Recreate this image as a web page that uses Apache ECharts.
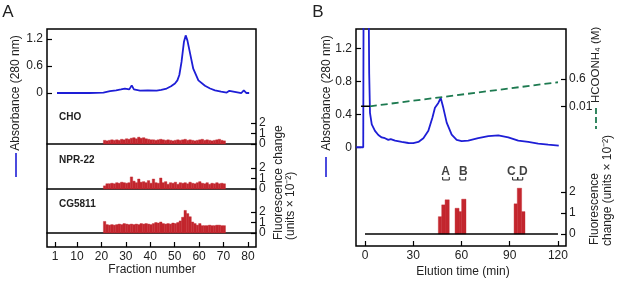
<!DOCTYPE html>
<html>
<head>
<meta charset="utf-8">
<script src="https://cdn.jsdelivr.net/npm/echarts@6/dist/echarts.min.js"></script>
<style>
    html, body { margin: 0; padding: 0; background: #fff; }
    #mychart { width: 617px; height: 281px; }
</style>
</head>
<body>
<div id="mychart"></div>
<script>
// ---- panel A: absorbance trace (fraction number, absorbance 280 nm)
var aFrac = [1.8, 15, 20.8, 23.5, 26, 28, 29.6, 31.4, 32.4, 33.3, 35.8, 39, 42.6, 44.5, 46.7, 48.5, 50.1, 51.1, 51.9, 52.8,
    53.8, 54.5, 55.2, 56.3, 57.6, 59.7, 62.4, 64.5, 66.5, 69, 71.3, 72.4, 73.2, 77.3, 78.3, 79.4, 80.5];
var aAbs = [0, 0, 0.01, 0.04, 0.06, 0.08, 0.1, 0.08, 0.17, 0.08, 0.055, 0.06, 0.055, 0.07, 0.1, 0.15, 0.21, 0.28, 0.4, 0.69,
    1.14, 1.28, 1.17, 0.88, 0.54, 0.28, 0.16, 0.1, 0.06, 0.03, 0.01, 0.05, 0.01, 0, 0.06, 0, 0];

// ---- panel A: fluorescence change per fraction (fractions 21..70)
var aFractions = [];
for (var f = 21; f <= 70; f++) aFractions.push(f);
var choVals = [0.35, 0.3, 0.35, 0.4, 0.35, 0.4, 0.35, 0.45, 0.4, 0.5,
    0.45, 0.55, 0.6, 0.5, 0.65, 0.55, 0.6, 0.5, 0.45, 0.4,
    0.4, 0.35, 0.4, 0.45, 0.4, 0.35, 0.4, 0.35, 0.3, 0.35,
    0.4, 0.35, 0.4, 0.45, 0.35, 0.4, 0.35, 0.3, 0.35, 0.4,
    0.45, 0.35, 0.4, 0.35, 0.3, 0.35, 0.4, 0.45, 0.35, 0.3];
var nprVals = [0.3, 0.5, 0.5, 0.55, 0.5, 0.6, 0.55, 0.65, 0.6, 0.55,
    0.6, 1.15, 0.75, 0.6, 0.95, 0.65, 0.7, 0.6, 0.8, 0.55,
    0.95, 0.6, 0.55, 1.05, 0.6, 0.7, 0.45, 0.6, 0.55, 0.65,
    0.45, 0.6, 0.55, 0.6, 0.5, 0.65, 0.55, 0.5, 0.6, 0.7,
    0.55, 0.5, 0.6, 0.45, 0.55, 0.5, 0.6, 0.5, 0.55, 0.5];
var cgVals = [1.1, 0.8, 0.75, 0.8, 0.75, 0.8, 0.85, 0.8, 0.9, 0.85,
    0.8, 0.85, 0.8, 0.85, 0.8, 0.9, 0.85, 0.9, 0.85, 0.8,
    0.9, 1.0, 0.95, 1.05, 0.9, 0.85, 0.9, 0.85, 0.95, 0.9,
    1.0, 1.15, 1.5, 2.15, 1.85, 1.55, 1.05, 0.9, 0.75, 0.9,
    0.7, 0.7, 0.7, 0.75, 0.7, 0.7, 0.75, 0.75, 0.7, 0.7];
var aPanelNames = ['CHO', 'NPR-22', 'CG5811'];
var aTicks = [1, 10, 20, 30, 40, 50, 60, 70, 80];
var fluorTicks = [0, 1, 2];

// ---- panel B: absorbance trace (elution time, min)
var bTime = [-5.5, -1.1, -0.8, 2.0, 2.6, 3.1, 4.2, 6.2, 8.3, 10.4, 12.4, 14.5, 16, 18.7, 22.8, 27, 30, 33.2, 36.3, 39.4,
    41.9, 43.5, 45.6, 47.1, 48.7, 50.8, 53.9, 57, 60.1, 64.2, 70.4, 76.7, 82.9, 89.1, 95.3, 101.5, 107.7, 113.9, 120.5];
var bAbs = [0, 0, 2.5, 2.5, 0.9, 0.42, 0.28, 0.2, 0.15, 0.12, 0.11, 0.09, 0.1, 0.08, 0.065, 0.052, 0.05, 0.065, 0.11, 0.2,
    0.36, 0.48, 0.54, 0.6, 0.48, 0.3, 0.155, 0.09, 0.075, 0.08, 0.11, 0.135, 0.145, 0.12, 0.08, 0.065, 0.045, 0.032, 0.02];
// HCOONH4 gradient (M)
var hTime = [3, 120];
var hConc = [0.01, 0.53];
var hStartTime = [-2.5, 3];
var hStartConc = [0.01, 0.01];
// fluorescence change of collected fractions
var bLeft = [45.6, 47.7, 49.8, 56.0, 58.5, 60.1, 92.7, 94.7, 97.4];
var bRight = [47.7, 49.8, 52.4, 58.5, 60.1, 62.8, 94.7, 97.4, 99.5];
var bFluor = [0.82, 1.38, 1.62, 1.22, 1.06, 1.65, 1.43, 2.17, 1.06];
var bPeakNames = ['A', 'B', 'C', 'D'];
var bPeakTime = [50.1, 61.2, 91.0, 98.4];
var bBracketL = [48.3, 59.0, 91.8, 95.0];
var bBracketR = [52.4, 62.6, 95.0, 98.1];
var bTicks = [0, 30, 60, 90, 120];

var BLUE = '#1e1ed6';
var RED = '#c3262e';
var GREEN = '#1d7a50';
var INK = '#222';
var FONT = 'Liberation Sans, Arial, Helvetica, sans-serif';

var myChart = echarts.init(document.getElementById('mychart'));

// 网格位置
var aLeft = 47, aWidth = 209;
var bGridLeft = 356, bWidth = 210;
var fluorTops = [110.4, 155.4, 199.4];

function baseGrid(left, top, width, height, frame) {
    return {
        left: left, top: top, width: width, height: height,
        containLabel: false, outerBoundsMode: 'none',
        show: !!frame, borderColor: '#000', borderWidth: frame ? 1.5 : 0,
        backgroundColor: 'transparent'
    };
}

var grids = [
    baseGrid(aLeft, 29, aWidth, 218, true),        // 0 A frame
    baseGrid(aLeft, 29, aWidth, 79),                // 1 A absorbance
    baseGrid(aLeft, fluorTops[0], aWidth, 37.8),    // 2 CHO
    baseGrid(aLeft, fluorTops[1], aWidth, 37.8),    // 3 NPR-22
    baseGrid(aLeft, fluorTops[2], aWidth, 37.8),    // 4 CG5811
    baseGrid(bGridLeft, 29, bWidth, 217, true),     // 5 B frame
    baseGrid(bGridLeft, 29, bWidth, 131),           // 6 B absorbance
    baseGrid(bGridLeft, 165, bWidth, 81)            // 7 B fluorescence
];

var tickStyle = {show: true, inside: true, length: 5, lineStyle: {color: '#000', width: 1.2}};
var labelStyle = {color: INK, fontSize: 12, fontFamily: FONT, hideOverlap: false, showMinLabel: true, showMaxLabel: true};

function hiddenX(grid, min, max) {
    return {type: 'value', gridIndex: grid, min: min, max: max, show: false, splitLine: {show: false}};
}

var xAxes = [
    {
        type: 'value', gridIndex: 0, min: -2.3, max: 83.3,
        axisLine: {show: false, onZero: false}, splitLine: {show: false},
        axisTick: Object.assign({customValues: aTicks}, tickStyle),
        axisLabel: Object.assign({customValues: aTicks, margin: 4}, labelStyle)
    },
    hiddenX(1, -2.3, 83.3)
];
for (var i = 0; i < 3; i++) {
    xAxes.push({
        type: 'value', gridIndex: 2 + i, min: -2.3, max: 83.3,
        axisLine: {show: true, onZero: true, lineStyle: {color: '#000', width: 1.5}},
        axisTick: {show: false}, axisLabel: {show: false}, splitLine: {show: false}
    });
}
xAxes.push({
    type: 'value', gridIndex: 5, min: -5.6, max: 125,
    axisLine: {show: false, onZero: false}, splitLine: {show: false},
    axisTick: Object.assign({customValues: bTicks}, tickStyle),
    axisLabel: Object.assign({customValues: bTicks, margin: 4}, labelStyle)
});
xAxes.push(hiddenX(6, -5.6, 125));
xAxes.push(hiddenX(7, -5.6, 125));

function sideY(grid, pos, min, max, ticks, labels, margin) {
    return {
        type: 'value', gridIndex: grid, position: pos, offset: 0, min: min, max: max,
        axisLine: {show: false, onZero: false}, splitLine: {show: false},
        axisTick: ticks ? Object.assign({customValues: ticks}, tickStyle) : {show: false},
        axisLabel: Object.assign({customValues: labels, margin: margin}, labelStyle)
    };
}

var yAxes = [
    {type: 'value', gridIndex: 0, min: 0, max: 1, show: false, splitLine: {show: false}},
    sideY(1, 'left', -0.333, 1.422, [0, 0.6, 1.2], [0, 0.6, 1.2], 4)
];
// A 荧光三个小图:标签拆成两个坐标轴,避免重叠被隐藏
for (var j = 0; j < 3; j++) {
    yAxes.push(sideY(2 + j, 'right', -0.4, 3.2, fluorTicks, [fluorTicks[0], fluorTicks[2]], 3));
}
yAxes.push({type: 'value', gridIndex: 5, min: 0, max: 1, show: false, splitLine: {show: false}});
yAxes.push(sideY(6, 'left', -0.155, 1.44, [0, 0.4, 0.8, 1.2], [0, 0.4, 0.8, 1.2], 4));
yAxes.push(sideY(6, 'right', -1.15, 1.68, [0.01, 0.6], [0.01, 0.6], 3));
yAxes.push(sideY(7, 'right', -0.57, 3.27, fluorTicks, fluorTicks, 3));
for (var m = 0; m < 3; m++) {
    yAxes.push(sideY(2 + m, 'right', -0.4, 3.2, null, [fluorTicks[1]], 3));   // index 9..11
}

// 直方图(每个组分一根柱)
function fractionBars(xIdx, yIdx, vals) {
    return {
        type: 'custom', xAxisIndex: xIdx, yAxisIndex: yIdx, z: 3,
        data: aFractions.map(function (fr, k) { return [fr, vals[k]]; }),
        renderItem: function (params, api) {
            var p0 = api.coord([api.value(0) - 0.2, api.value(1)]);
            var p1 = api.coord([api.value(0) + 0.8, 0]);
            return {
                type: 'rect',
                shape: {x: p0[0], y: p0[1], width: p1[0] - p0[0], height: p1[1] - p0[1]},
                style: {fill: RED, stroke: RED, lineWidth: 0.4}
            };
        }
    };
}

var series = [
    {
        type: 'line', xAxisIndex: 1, yAxisIndex: 1, showSymbol: false, symbol: 'none',
        lineStyle: {color: BLUE, width: 1.8},
        data: aFrac.map(function (x, k) { return [x, aAbs[k]]; })
    },
    fractionBars(2, 2, choVals),
    fractionBars(3, 3, nprVals),
    fractionBars(4, 4, cgVals),
    {
        type: 'line', xAxisIndex: 6, yAxisIndex: 6, showSymbol: false, symbol: 'none', clip: true,
        lineStyle: {color: BLUE, width: 1.8},
        data: bTime.map(function (x, k) { return [x, bAbs[k]]; })
    },
    {
        type: 'line', xAxisIndex: 6, yAxisIndex: 7, showSymbol: false, symbol: 'none',
        lineStyle: {color: GREEN, width: 1.8, type: [7, 4]},
        data: hTime.map(function (x, k) { return [x, hConc[k]]; })
    },
    {
        type: 'line', xAxisIndex: 6, yAxisIndex: 7, showSymbol: false, symbol: 'none',
        lineStyle: {color: '#000', width: 1.5},
        data: hStartTime.map(function (x, k) { return [x, hStartConc[k]]; })
    },
    {
        type: 'custom', xAxisIndex: 7, yAxisIndex: 8, z: 3,
        data: bLeft.map(function (l, k) { return [l, bRight[k], bFluor[k]]; }),
        renderItem: function (params, api) {
            var p0 = api.coord([api.value(0), api.value(2)]);
            var p1 = api.coord([api.value(1), 0]);
            return {
                type: 'rect',
                shape: {x: p0[0], y: p0[1], width: p1[0] - p0[0], height: p1[1] - p0[1]},
                style: {fill: RED, stroke: RED, lineWidth: 0.4}
            };
        },
        markLine: {
            silent: true, symbol: 'none', label: {show: false},
            lineStyle: {color: '#000', width: 1.5, type: 'solid'},
            data: [[{coord: [bTicks[0], 0]}, {coord: [bTicks[bTicks.length - 1], 0]}]]
        }
    },
    // 峰标记 A B C D
    {
        type: 'scatter', xAxisIndex: 7, yAxisIndex: 8, symbolSize: 0, silent: true,
        data: bPeakTime.map(function (t, k) { return {value: [t, 2.96], name: bPeakNames[k]}; }),
        label: {
            show: true, position: 'inside', formatter: '{b}',
            color: '#111', fontSize: 12, fontWeight: 'bold', fontFamily: FONT
        }
    },
    {
        type: 'custom', xAxisIndex: 7, yAxisIndex: 8, silent: true,
        data: bBracketL.map(function (l, k) { return [l, bBracketR[k]]; }),
        renderItem: function (params, api) {
            var a = api.coord([api.value(0), 2.7]);
            var b = api.coord([api.value(0), 2.56]);
            var c = api.coord([api.value(1), 2.56]);
            var d = api.coord([api.value(1), 2.7]);
            return {
                type: 'polyline',
                shape: {points: [a, b, c, d]},
                style: {stroke: '#222', fill: null, lineWidth: 1}
            };
        }
    }
];

function txt(x, y, text, opts) {
    var o = opts || {};
    return {
        type: 'text', x: x, y: y, rotation: o.rot || 0,
        style: {
            text: text, fill: INK,
            font: (o.weight || 'normal') + ' ' + (o.size || 12) + 'px ' + FONT,
            align: o.align || 'center', verticalAlign: 'middle'
        }
    };
}
var UP = Math.PI / 2;

var graphics = [
    txt(8, 12, 'A', {size: 17}),
    txt(318, 12, 'B', {size: 17}),
    // panel A
    txt(16, 93, 'Absorbance (280 nm)', {rot: UP}),
    {type: 'line', shape: {x1: 16, y1: 153, x2: 16, y2: 177}, style: {stroke: BLUE, lineWidth: 1.6}},
    txt(59, 117.5, aPanelNames[0], {align: 'left', weight: 'bold', size: 10}),
    txt(59, 160.5, aPanelNames[1], {align: 'left', weight: 'bold', size: 10}),
    txt(59, 204.5, aPanelNames[2], {align: 'left', weight: 'bold', size: 10}),
    txt(279, 240, 'Fluorescence change', {rot: UP, align: 'left'}),
    txt(291, 240, '(units × 10⁻²)', {rot: UP, align: 'left'}),
    txt(152, 270, 'Fraction number'),
    // panel B
    txt(327, 93, 'Absorbance (280 nm)', {rot: UP}),
    {type: 'line', shape: {x1: 326, y1: 157, x2: 326, y2: 177}, style: {stroke: BLUE, lineWidth: 1.6}},
    txt(596, 103, 'HCOONH₄ (M)', {rot: UP, align: 'left', size: 11.5}),
    {type: 'line', shape: {x1: 596, y1: 108, x2: 596, y2: 129}, style: {stroke: GREEN, lineWidth: 1.8, lineDash: [6, 3]}},
    txt(595, 245, 'Fluorescence', {rot: UP, align: 'left'}),
    txt(608, 246, 'change (units × 10⁻²)', {rot: UP, align: 'left'}),
    txt(463, 272, 'Elution time (min)')
];

myChart.setOption({
    animation: false,
    backgroundColor: '#fff',
    grid: grids,
    xAxis: xAxes,
    yAxis: yAxes,
    series: series,
    graphic: graphics
});
</script>
</body>
</html>
